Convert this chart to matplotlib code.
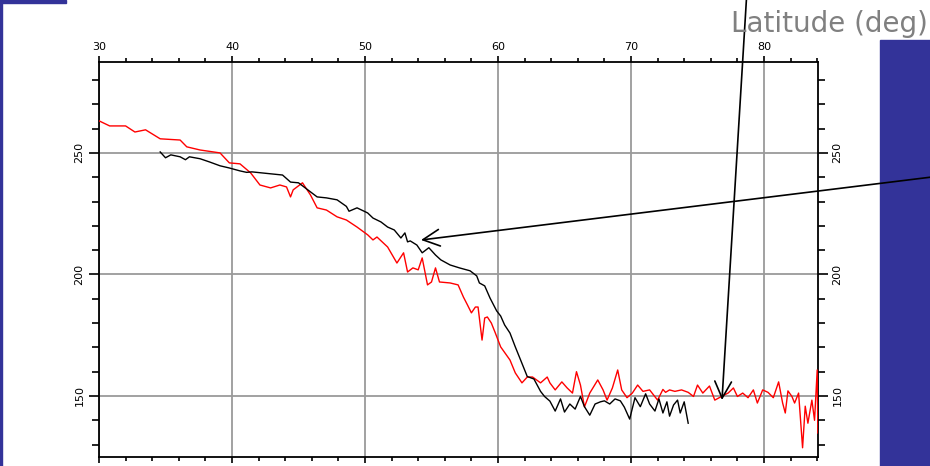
import matplotlib
matplotlib.use("Agg")
import matplotlib.pyplot as plt
from matplotlib.patches import Rectangle
from matplotlib.ticker import MultipleLocator

# red profile (latitude in deg, value)
red_lat = [30.0, 30.8, 32.0, 32.7, 33.5, 34.6, 36.1, 36.6, 37.6, 39.1, 39.8, 40.6,
           41.4, 42.1, 42.9, 43.6, 44.1, 44.4, 44.6, 45.3, 45.9, 46.4, 47.1, 47.9,
           48.6, 49.4, 50.2, 50.6, 50.9, 51.7, 52.4, 52.9, 53.2, 53.6, 54.0, 54.3,
           54.7, 55.0, 55.3, 55.6, 56.4, 57.0, 57.4, 57.7, 58.0, 58.3, 58.5, 58.8,
           59.0, 59.2, 59.5, 59.8, 60.2, 60.9, 61.3, 61.8, 62.2, 62.6, 63.2, 63.7,
           63.9, 64.3, 64.8, 65.2, 65.6, 65.9, 66.2, 66.5, 66.9, 67.5, 67.9, 68.2,
           68.6, 69.0, 69.3, 69.7, 70.1, 70.5, 70.9, 71.4, 72.0, 72.4, 72.6, 72.9,
           73.3, 73.8, 74.3, 74.7, 75.0, 75.4, 75.9, 76.3, 76.8, 77.3, 77.7, 78.0,
           78.4, 78.8, 79.2, 79.5, 79.9, 80.3, 80.7, 81.1, 81.4, 81.6, 81.8, 82.1,
           82.3, 82.6, 82.9, 83.1, 83.3, 83.6, 83.8, 84.0, 84.05]
red_val = [263.2, 261.1, 261.1, 258.6, 259.5, 255.8, 255.3, 252.5, 251.2, 250.0, 245.9, 245.5,
           241.8, 236.8, 235.6, 236.8, 236.0, 231.9, 234.8, 237.7, 232.7, 227.4, 226.5, 223.7,
           222.4, 219.5, 216.3, 214.2, 215.4, 211.3, 204.7, 208.9, 201.0, 202.7, 201.9, 206.8,
           195.7, 196.9, 202.7, 196.9, 196.5, 195.7, 190.7, 187.5, 184.2, 186.6, 186.6, 173.0,
           182.1, 182.5, 180.0, 175.9, 170.2, 164.8, 159.5, 155.4, 157.8, 157.8, 155.4, 157.8,
           155.4, 152.5, 155.8, 153.3, 151.2, 160.0, 154.5, 145.5, 151.2, 156.6, 152.5, 148.3,
           153.3, 160.7, 152.5, 149.3, 151.2, 154.5, 151.9, 152.5, 148.3, 152.7, 151.5, 152.5,
           151.9, 152.5, 151.5, 149.8, 154.5, 151.2, 154.1, 148.3, 149.8, 151.2, 153.3, 149.8,
           151.2, 149.3, 152.5, 147.1, 152.5, 151.5, 149.3, 155.8, 147.1, 143.0, 152.1, 149.8,
           147.1, 151.2, 128.7, 145.8, 138.8, 148.3, 140.0, 160.7, 134.8]

# black profile
black_lat = [34.6, 35.0, 35.4, 36.1, 36.5, 36.8, 37.6, 38.3, 39.1, 39.8, 40.6, 41.1,
             41.5, 42.2, 43.8, 44.4, 45.0, 45.7, 46.4, 47.1, 47.9, 48.6, 48.8, 49.4,
             50.2, 50.6, 51.2, 51.7, 52.2, 52.7, 53.0, 53.2, 53.4, 53.9, 54.3, 54.8,
             55.3, 55.7, 56.4, 57.1, 57.9, 58.4, 58.6, 59.0, 59.4, 59.9, 60.2, 60.5,
             60.9, 61.3, 61.7, 62.2, 62.7, 63.2, 63.5, 63.9, 64.3, 64.7, 65.0, 65.4,
             65.8, 66.2, 66.5, 66.9, 67.3, 67.7, 68.0, 68.4, 68.8, 69.2, 69.5, 69.9,
             70.3, 70.7, 71.1, 71.4, 71.8, 72.1, 72.4, 72.7, 72.9, 73.2, 73.5, 73.7,
             74.0, 74.3]
black_val = [250.4, 248.0, 249.2, 248.4, 247.2, 248.4, 247.6, 246.3, 244.7, 243.8, 242.6, 242.0,
             242.2, 241.8, 240.9, 238.0, 237.7, 234.8, 231.9, 231.5, 230.7, 228.0, 226.0, 227.4,
             225.3, 223.2, 221.6, 219.5, 218.3, 215.0, 217.1, 213.4, 213.8, 212.1, 208.9, 211.0,
             208.0, 206.0, 203.9, 202.7, 201.5, 199.4, 196.5, 195.3, 190.3, 185.0, 182.9, 179.2,
             175.9, 170.2, 164.8, 158.0, 157.0, 151.9, 149.8, 147.9, 143.8, 148.8, 143.4, 146.7,
             144.6, 149.8, 145.6, 142.1, 146.7, 147.6, 148.0, 146.7, 148.8, 148.0, 145.4, 140.5,
             149.3, 145.6, 150.9, 146.7, 143.8, 148.8, 143.0, 147.6, 141.7, 146.3, 148.3, 143.0,
             147.6, 138.8]

x_ticks = [30, 40, 50, 60, 70, 80]
y_ticks = [150, 200, 250]

blue = "#333399"

fig = plt.figure(figsize=(9.3, 4.66), dpi=100)
W, H = 930, 466

# slide decoration
fig.patches.append(Rectangle((0, 0), 2 / W, 1, transform=fig.transFigure,
                             color=blue, zorder=0))
fig.patches.append(Rectangle((0, 1 - 3 / H), 66 / W, 3 / H, transform=fig.transFigure,
                             color=blue, zorder=0))
fig.patches.append(Rectangle((880 / W, 0), 50 / W, 426 / H, transform=fig.transFigure,
                             color=blue, zorder=0))

ax = fig.add_axes([99 / W, 9 / H, 719 / W, 395 / H])
ax.plot(red_lat, red_val, color="red", lw=1.0, zorder=3)
ax.plot(black_lat, black_val, color="black", lw=1.0, zorder=3)

ax.set_xlim(30, 84.06)
ax.set_ylim(124.9, 287.4)
ax.set_xticks(x_ticks)
ax.set_yticks(y_ticks)
ax.xaxis.set_minor_locator(MultipleLocator(2))
ax.yaxis.set_minor_locator(MultipleLocator(10))
ax.grid(True, which="major", color="#9a9a9a", lw=1.3)
ax.set_axisbelow(True)

ax.tick_params(axis="x", which="both", direction="out", top=True, bottom=True,
               labeltop=True, labelbottom=False, width=1.2, labelsize=8)
ax.tick_params(axis="x", which="major", length=4)
ax.tick_params(axis="x", which="minor", length=3)
ax.tick_params(axis="y", which="both", direction="out", left=True, right=True,
               labelleft=True, labelright=True, width=1.2, labelsize=8,
               labelrotation=90)
ax.tick_params(axis="y", which="major", length=7)
ax.tick_params(axis="y", which="minor", length=5)
for lab in ax.get_yticklabels():
    lab.set_va("center")
for lab in ax.yaxis.get_ticklabels(which="major"):
    lab.set_va("center")
for s in ax.spines.values():
    s.set_linewidth(1.3)

fig.text(928 / W, 1 - 32 / H, "Latitude (deg)", ha="right", va="baseline",
         fontsize=20, color="#808080", family="DejaVu Sans")

# pointer arrows
arrow = dict(arrowstyle="->,head_length=1.2,head_width=0.6", color="black",
             lw=1.2, shrinkA=0, shrinkB=0)
fig.add_artist(plt.Annotation("", xy=(421, H - 240), xycoords="figure pixels",
                              xytext=(932, H - 177), textcoords="figure pixels",
                              arrowprops=arrow, annotation_clip=False))
fig.add_artist(plt.Annotation("", xy=(722, H - 400), xycoords="figure pixels",
                              xytext=(747, H + 10), textcoords="figure pixels",
                              arrowprops=arrow, annotation_clip=False))

fig.savefig("out.png", dpi=100)
